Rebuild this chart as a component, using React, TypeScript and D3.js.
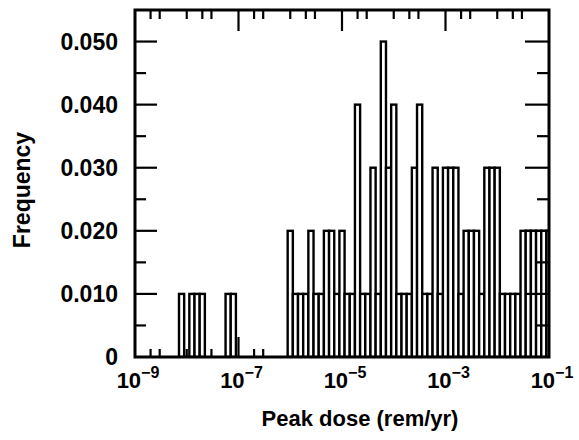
import * as d3 from 'd3';
import React, { useRef, useEffect } from 'react';

// bin centres, log10(peak dose), bins are 0.1 decade wide
const binCenters = [
  -8.1, -7.9, -7.8, -7.7, -7.2, -7.1,
  -6.0, -5.9, -5.8, -5.7, -5.6, -5.5, -5.4, -5.3, -5.2, -5.1,
  -5.0, -4.9, -4.8, -4.7, -4.6, -4.5, -4.4, -4.3, -4.2, -4.1,
  -4.0, -3.9, -3.8, -3.7, -3.6, -3.5, -3.4, -3.3, -3.2, -3.1,
  -3.0, -2.9, -2.8, -2.7, -2.6, -2.5, -2.4, -2.3, -2.2, -2.1,
  -2.0, -1.9, -1.8, -1.7, -1.6, -1.5, -1.4, -1.3, -1.2, -1.1, -1.0,
];
const frequency = [
  0.01, 0.01, 0.01, 0.01, 0.01, 0.01,
  0.02, 0.01, 0.01, 0.01, 0.02, 0.01, 0.01, 0.02, 0.02, 0.01,
  0.02, 0.01, 0.01, 0.04, 0.01, 0.01, 0.03, 0.01, 0.05, 0.03,
  0.04, 0.01, 0.01, 0.01, 0.03, 0.04, 0.01, 0.01, 0.03, 0.01,
  0.03, 0.03, 0.03, 0.01, 0.02, 0.02, 0.02, 0.01, 0.03, 0.03,
  0.03, 0.01, 0.01, 0.01, 0.01, 0.02, 0.02, 0.02, 0.02, 0.02, 0.02,
];
const yTicks = [0, 0.01, 0.02, 0.03, 0.04, 0.05];
const yTickLabels = ['0', '0.010', '0.020', '0.030', '0.040', '0.050'];
const xLabelExponents = [-9, -7, -5, -3, -1];

const width = 579;
const height = 440;
const margin = { top: 10, right: 30, bottom: 83, left: 135 };
const font = '"Liberation Sans", Arial, Helvetica, sans-serif';

export default function App() {
  const ref = useRef<SVGSVGElement>(null);

  useEffect(() => {
    drawChart();
  }, []);

  function drawChart() {
    const svg = d3.select(ref.current);
    svg.selectAll('*').remove();

    const left = margin.left;
    const right = width - margin.right;
    const top = margin.top;
    const bottom = height - margin.bottom;

    const x = d3.scaleLog().domain([1e-9, 1e-1]).range([left, right]);
    const y = d3.scaleLinear().domain([0, 0.055]).range([bottom, top]);

    svg.append('defs').append('clipPath').attr('id', 'plot-clip')
      .append('rect')
      .attr('x', left).attr('y', top)
      .attr('width', right - left).attr('height', bottom - top);

    // log ticks at 1, 2, 3 x 10^k
    const logTicks: { v: number; major: boolean }[] = [];
    for (let k = -9; k <= -2; k++) {
      [1, 2, 3].forEach((m) => {
        if (m === 1 && k === -9) return;
        logTicks.push({ v: m * Math.pow(10, k), major: m === 1 && k % 2 !== 0 });
      });
    }

    // bottom ticks (under the bars)
    svg.append('g').selectAll('line').data(logTicks).enter().append('line')
      .attr('x1', (d) => x(d.v)).attr('x2', (d) => x(d.v))
      .attr('y1', bottom).attr('y2', (d) => bottom - (d.major ? 20 : 8))
      .attr('stroke', 'black').attr('stroke-width', 2.2);

    // bars
    const bins = d3.zip(binCenters, frequency);
    svg.append('g').attr('clip-path', 'url(#plot-clip)')
      .selectAll('rect').data(bins).enter().append('rect')
      .attr('x', (d) => x(Math.pow(10, d[0] - 0.05)))
      .attr('width', (d) => x(Math.pow(10, d[0] + 0.05)) - x(Math.pow(10, d[0] - 0.05)))
      .attr('y', (d) => y(d[1]))
      .attr('height', (d) => y(0) - y(d[1]))
      .attr('fill', 'white')
      .attr('stroke', 'black')
      .attr('stroke-width', 2.4);

    // top ticks
    svg.append('g').selectAll('line').data(logTicks).enter().append('line')
      .attr('x1', (d) => x(d.v)).attr('x2', (d) => x(d.v))
      .attr('y1', top).attr('y2', (d) => top + (d.major ? 21 : 9))
      .attr('stroke', 'black').attr('stroke-width', 2.2);

    // left and right ticks every 0.005
    const yAll = d3.range(1, 11).map((i) => i * 0.005);
    svg.append('g').selectAll('line').data(yAll).enter().append('line')
      .attr('x1', left)
      .attr('x2', (d, i) => left + (i % 2 === 1 ? 22 : 11))
      .attr('y1', (d) => y(d)).attr('y2', (d) => y(d))
      .attr('stroke', 'black').attr('stroke-width', 2.2);
    svg.append('g').selectAll('line').data(yAll).enter().append('line')
      .attr('x1', right)
      .attr('x2', (d, i) => right - (i % 2 === 1 ? 24 : 12))
      .attr('y1', (d) => y(d)).attr('y2', (d) => y(d))
      .attr('stroke', 'black').attr('stroke-width', 2.2);

    // frame
    svg.append('rect')
      .attr('x', left).attr('y', top)
      .attr('width', right - left).attr('height', bottom - top)
      .attr('fill', 'none').attr('stroke', 'black').attr('stroke-width', 3);

    // y labels
    svg.append('g').selectAll('text').data(yTicks).enter().append('text')
      .attr('x', 118).attr('y', (d) => y(d)).attr('dy', '0.36em')
      .attr('text-anchor', 'end')
      .attr('font-family', font).attr('font-weight', 'bold').attr('font-size', 23)
      .text((d, i) => yTickLabels[i]);

    // x labels
    const xl = svg.append('g').selectAll('text').data(xLabelExponents).enter().append('text')
      .attr('x', (d) => x(Math.pow(10, d)) + 3).attr('y', 388)
      .attr('text-anchor', 'middle')
      .attr('font-family', font).attr('font-weight', 'bold').attr('font-size', 22);
    xl.append('tspan').text('10');
    xl.append('tspan').attr('dy', -10).attr('font-size', 16).text((d) => '\u2212' + Math.abs(d));

    // axis titles
    svg.append('text')
      .attr('transform', 'translate(22,190) rotate(-90)')
      .attr('dy', '0.36em').attr('text-anchor', 'middle')
      .attr('font-family', font).attr('font-weight', 'bold').attr('font-size', 23)
      .text('Frequency');
    svg.append('text')
      .attr('x', 360).attr('y', 426).attr('text-anchor', 'middle')
      .attr('font-family', font).attr('font-weight', 'bold').attr('font-size', 22)
      .text('Peak dose (rem/yr)');
  }

  return (
    <svg ref={ref} width={width} height={height}
      style={{ position: 'absolute', left: 0, top: 0, background: 'white' }} />
  );
}
